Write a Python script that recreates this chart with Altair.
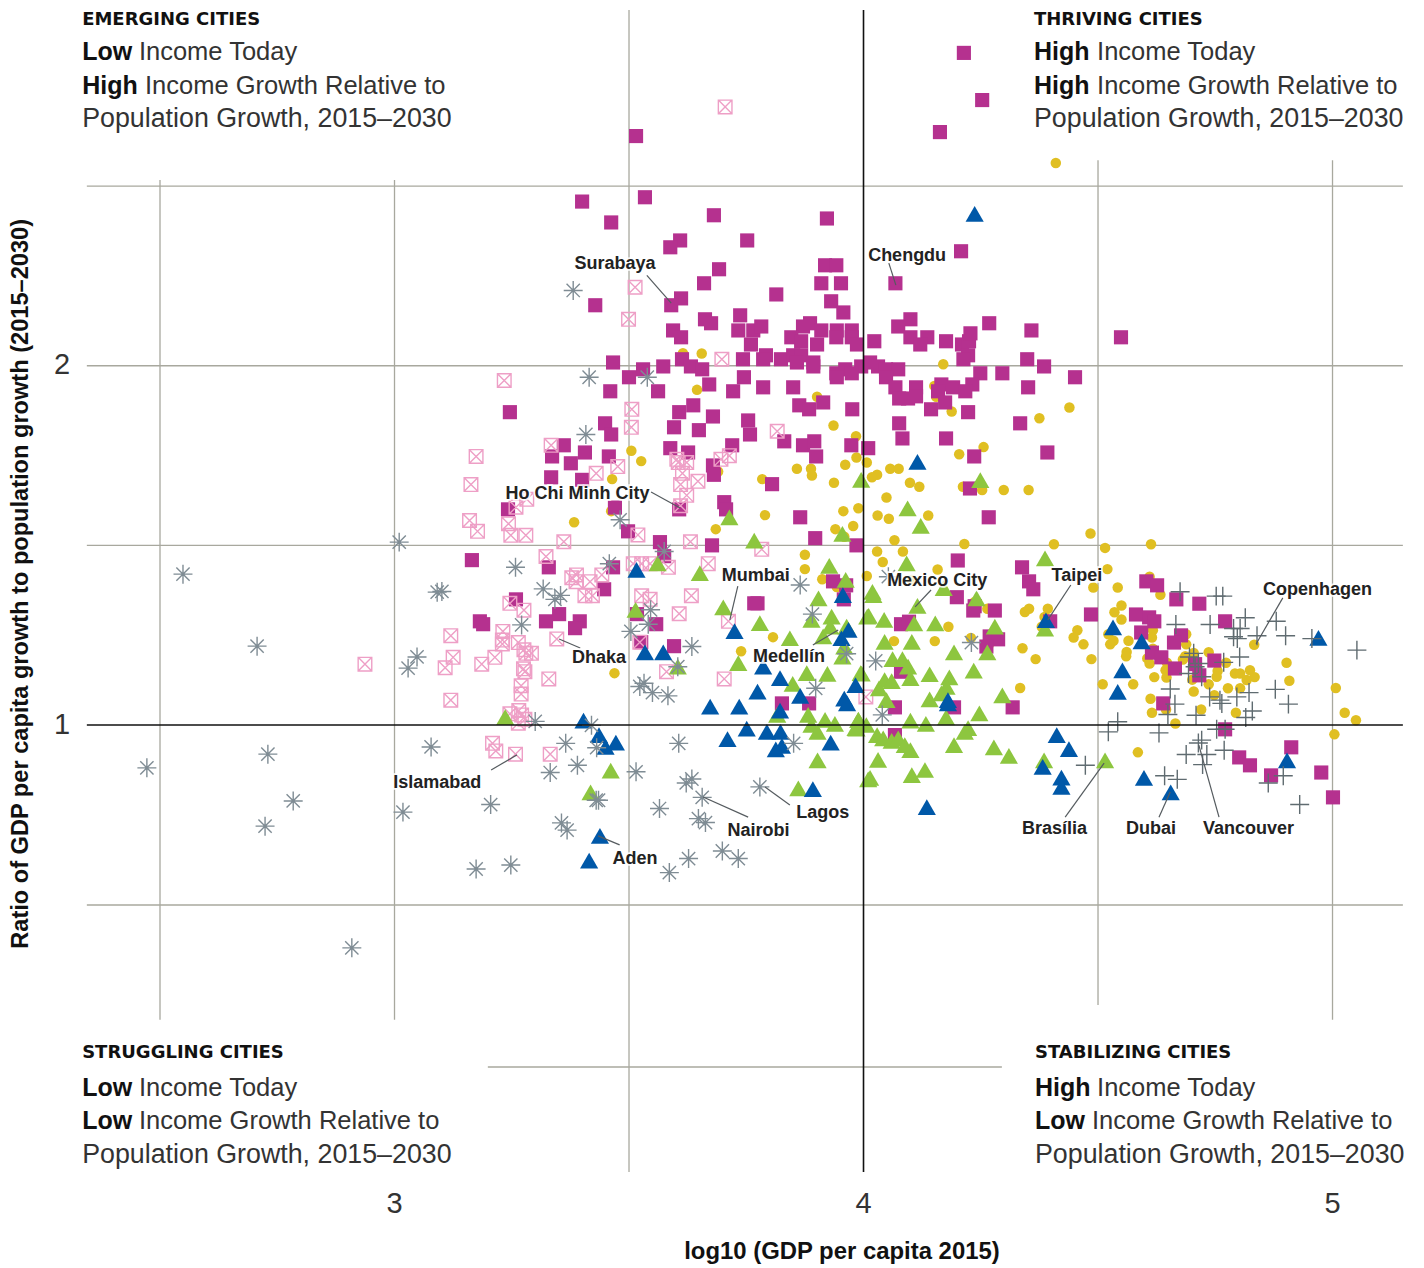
import altair as alt
import pandas as pd

thriving = [(3.400,2.454),(3.534,2.466),(3.462,2.396),(3.681,2.416),(3.922,2.407),(3.609,2.346),(3.588,2.327),(3.752,2.346),(3.692,2.266),(3.660,2.227),
(3.918,2.277),(3.942,2.277),(3.910,2.227),(3.952,2.227),(3.931,2.177),(3.957,2.146),(3.814,2.196),(3.428,2.166),(3.611,2.185),(3.590,2.166),
(3.737,2.138),(3.662,2.127),(3.675,2.116),(3.733,2.096),(3.765,2.096),(3.782,2.107),(3.594,2.096),(3.611,2.077),(3.760,2.057),(3.871,2.107),
(3.886,2.116),(3.910,2.096),(3.943,2.096),(3.975,2.096),(3.942,2.077),(3.975,2.077),(3.846,2.077),(3.867,2.066),(3.901,2.057),(3.986,2.057),
(3.466,2.007),(3.530,1.988),(3.573,1.996),(3.613,2.016),(3.632,1.996),(3.656,1.988),(3.743,2.016),(3.792,2.027),(3.786,2.016),(3.824,2.016),
(3.850,2.027),(3.867,2.027),(3.858,2.007),(3.893,2.007),(3.893,1.996),(3.942,1.977),(3.961,1.988),(3.995,1.996),(3.943,1.966),(3.975,1.977),
(3.500,1.966),(3.671,1.946),(3.745,1.966),(3.460,1.927),(3.562,1.927),(3.722,1.927),(3.786,1.938),(3.850,1.938),(3.863,1.888),(3.884,1.877),
(3.914,1.896),(3.637,1.888),(3.607,1.869),(3.679,1.857),(3.754,1.846),(3.976,1.877),(3.596,1.827),(3.649,1.819),(3.449,1.838),(3.462,1.807),
(3.758,1.807),(3.246,1.869),(3.831,1.788),(3.871,1.777),(3.895,1.788),(3.974,1.777),(3.720,1.777),(3.899,1.746),(3.588,1.769),(3.626,1.757),
(3.361,1.777),(3.406,1.757),(3.336,1.746),(3.457,1.746),(3.376,1.727),(3.679,1.721),
(3.681,1.695),(3.334,1.688),(3.400,1.681),(3.805,1.669),(3.703,1.619),(3.707,1.599),(3.470,1.604),(3.242,1.599),(3.607,1.599),(3.865,1.577),
(3.498,1.538),(3.566,1.508),(3.677,1.499),(3.897,1.519),(3.985,1.499),(3.575,1.469),(3.165,1.458),(3.329,1.438),(3.466,1.438),(3.447,1.377),
(3.935,1.399),(3.963,1.388),(3.958,1.349),(3.259,1.349),(3.182,1.288),(3.189,1.280),(3.323,1.288),(3.351,1.308),(3.395,1.288),(3.385,1.269),
(3.517,1.308),(3.558,1.280),(3.767,1.338),(3.774,1.338),(3.526,1.230),(3.596,1.219),(3.826,1.060),(3.884,1.060),
(4.227,1.657),(4.267,1.577),(4.201,1.457),(4.338,1.438),(4.353,1.399),(4.362,1.377),(4.199,1.355),(4.237,1.330),(4.234,1.318),(4.280,1.318),
(4.080,1.280),(4.097,1.287),(4.269,1.246),(4.287,1.238),(4.262,1.218),(4.080,1.148),(4.067,1.049),(4.193,1.049),(4.318,1.049),(4.067,0.972),
(4.208,2.316),(4.068,2.227),(4.100,2.127),(4.074,2.107),(4.268,2.116),(4.023,2.066),(4.100,2.077),(4.136,2.077),(4.121,2.057),(4.176,2.066),
(4.210,2.057),(4.225,2.066),(4.228,2.088),(4.358,2.096),(4.223,2.027),(4.213,2.016),(4.349,2.016),(4.385,1.996),(4.549,2.077),(4.014,2.007),
(4.031,1.996),(4.048,1.988),(4.074,1.988),(4.048,1.966),(4.249,1.977),(4.296,1.977),(4.451,1.966),(4.166,1.946),(4.068,1.938),(4.112,1.938),
(4.191,1.938),(4.232,1.946),(4.217,1.927),(4.159,1.927),(4.351,1.938),(4.076,1.907),(4.095,1.907),(4.112,1.913),(4.174,1.896),(4.144,1.877),
(4.223,1.869),(4.334,1.838),(4.076,1.838),(4.083,1.796),(4.176,1.796),(4.010,1.769),(4.236,1.746),(4.392,1.757),
(4.214,2.867),(4.253,2.736),(4.163,2.647),(3.515,2.636),
(4.485,1.307),(4.398,1.288),(4.603,1.399),(4.626,1.388),(4.667,1.349),(4.716,1.337),(4.771,1.288),(4.581,1.307),(4.609,1.299),(4.620,1.288),
(4.592,1.257),(4.677,1.249),(4.662,1.229),(4.615,1.201),(4.635,1.188),(4.664,1.157),(4.707,1.169),(4.748,1.179),(4.716,1.138),(4.639,1.060),
(4.771,0.988),(4.801,0.910),(4.824,0.888),(4.869,0.860),(4.912,0.938),(4.976,0.868),(5.001,0.799)]

emerging = [(3.513,2.216),(3.499,2.127),(3.698,2.016),(3.234,1.957),(3.506,1.877),(3.505,1.827),(3.816,1.816),(3.334,1.777),(3.174,1.746),(3.705,2.717),
(3.714,1.748),(3.696,1.738),(3.602,1.738),(3.623,1.729),(3.605,1.729),(3.614,1.699),(3.476,1.718),(3.430,1.699),(3.647,1.677),(3.610,1.668),
(3.623,1.638),(3.163,1.668),(3.610,1.609),(3.282,1.627),(3.259,1.605),(3.160,1.568),(3.177,1.538),(3.243,1.559),(3.248,1.527),(3.280,1.527),
(3.361,1.509),(3.519,1.528),(3.631,1.509),(3.783,1.488),(3.323,1.468),(3.669,1.448),(3.509,1.448),(3.527,1.448),(3.545,1.448),(3.584,1.438),
(3.388,1.417),(3.378,1.409),(3.387,1.398),(3.417,1.398),(3.442,1.417),(3.406,1.359),(3.422,1.359),(3.527,1.359),(3.545,1.349),(3.633,1.359),
(3.246,1.338),(3.276,1.319),(3.607,1.309),(3.712,1.288),(3.120,1.248),(3.231,1.260),(3.230,1.236),(3.230,1.225),(3.264,1.229),(3.346,1.239),
(3.523,1.230),(3.276,1.209),(3.280,1.199),(3.292,1.199),(3.125,1.188),(3.214,1.188),(3.186,1.169),(3.108,1.159),(3.275,1.156),(3.278,1.148),
(3.580,1.148),(3.329,1.128),(3.703,1.128),(3.270,1.109),(3.270,1.086),(3.120,1.069),(3.265,1.040),(3.246,1.031),(3.271,1.028),(3.278,1.016),
(3.264,1.005),(4.005,1.078),(3.209,0.949),(3.216,0.928),(3.258,0.919),(3.332,0.919),(2.937,1.169)]

income_high = [(3.505,1.762),(3.526,1.733),(3.858,1.712),(3.888,1.712),(3.890,1.693),(3.961,1.723),(3.985,1.743),(4.007,1.729),(3.937,1.673),(3.784,1.683),
(3.690,1.704),(3.464,1.683),(3.462,1.594),(3.383,1.563),(3.790,1.583),(3.957,1.594),(3.989,1.602),(3.685,1.544),(3.940,1.544),(3.978,1.553),
(3.959,1.523),(3.875,1.473),(3.875,1.433),(3.912,1.405),(4.007,1.414),(3.943,1.383),(3.807,1.244),(3.739,1.205),(3.469,1.144),
(3.615,2.033),(3.655,2.032),(3.645,1.931),(3.901,1.912),(3.936,1.832),(3.984,1.802),
(4.170,2.002),(4.151,1.942),(4.155,1.912),(4.188,1.871),(4.375,1.852),(4.439,1.882),(4.204,1.752),(4.256,1.772),(4.057,1.712),(4.075,1.712),
(4.029,1.695),(4.018,1.688),(4.410,2.561),
(4.099,1.673),(4.119,1.662),(4.212,1.662),(4.253,1.653),(4.299,1.653),(4.352,1.653),(4.049,1.632),(4.030,1.582),(4.054,1.573),(4.138,1.582),
(4.066,1.513),(4.215,1.503),(4.029,1.482),(4.084,1.482),(4.041,1.453),(4.158,1.432),(4.103,1.403),(4.237,1.342),(4.264,1.323),(4.344,1.314),
(4.353,1.323),(4.181,1.273),(4.065,1.233),(4.152,1.233),(4.229,1.242),(4.267,1.223),(4.339,1.213),(4.367,1.183),(4.334,1.103),
(4.484,1.532),(4.406,1.502),(4.515,1.492),(4.613,1.502),(4.520,1.433),(4.610,1.412),(4.490,1.382),(4.542,1.382),(4.633,1.362),(4.550,1.332),
(4.535,1.313),(4.550,1.293),(4.393,1.323),(4.386,1.300),(4.380,1.273),(4.456,1.263),(4.448,1.243),(4.469,1.224),(4.486,1.183),(4.522,1.252),
(4.533,1.234),(4.526,1.224),(4.565,1.234),(4.561,1.203),(4.560,1.191),(4.617,1.263),(4.615,1.243),(4.688,1.252),(4.688,1.224),(4.617,1.212),
(4.605,1.185),(4.610,1.171),(4.647,1.173),(4.644,1.152),(4.646,1.132),(4.620,1.133),(4.686,1.191),(4.681,1.182),(4.704,1.200),(4.736,1.202),
(4.773,1.173),(4.755,1.150),(4.753,1.134),(4.701,1.126),(4.736,1.113),(4.792,1.143),(4.803,1.143),(4.824,1.152),(4.834,1.133),(4.817,1.125),
(4.803,1.102),(4.777,1.102),(4.902,1.173),(4.908,1.123),(4.833,1.223),(4.510,1.113),(4.575,1.113),(4.704,1.093),(4.748,1.083),(4.612,1.073),
(4.615,1.034),(4.645,1.043),(4.720,1.043),(4.794,1.034),(4.665,1.004),(5.007,1.103),(5.026,1.034),(5.050,1.013),(5.004,0.974),(4.585,0.924)]

green = [(3.995,1.681),(3.714,1.577),(3.955,1.531),(3.767,1.512),(3.561,1.449),(3.651,1.422),(3.927,1.442),(3.962,1.403),(3.701,1.327),(3.904,1.352),
(3.932,1.301),(3.889,1.292),(3.514,1.320),(4.008,1.301),(3.779,1.283),(3.843,1.241),(3.914,1.246),(3.929,1.273),(3.964,1.273),(3.733,1.172),
(3.959,1.218),(3.955,1.190),(3.604,1.162),(3.879,1.144),(3.923,1.142),(3.994,1.144),(3.849,1.114),(3.882,1.028),(3.816,1.028),(3.918,1.014),
(3.939,1.003),(3.989,1.014),(3.889,1.000),(3.236,1.022),(3.902,0.902),(3.861,0.824),(3.461,0.873),(3.418,0.813),(3.902,0.981),(3.985,0.990),(4.010,0.849),
(4.249,1.680),(4.094,1.602),(4.122,1.553),(4.092,1.449),(4.171,1.380),(4.019,1.370),(4.021,1.361),(4.115,1.331),(4.241,1.352),(4.011,1.303),
(4.044,1.292),(4.108,1.282),(4.153,1.282),(4.280,1.273),(4.045,1.231),(4.103,1.231),(4.193,1.202),(4.264,1.202),(4.062,1.183),(4.083,1.183),
(4.095,1.162),(4.100,1.130),(4.141,1.141),(4.183,1.132),(4.235,1.151),(4.045,1.125),(4.060,1.122),(4.033,1.102),(3.996,1.143),(4.177,1.106),
(4.166,1.088),(4.141,1.071),(4.049,1.069),(4.296,1.082),(4.247,1.032),(4.176,1.021),(4.100,1.012),(4.133,1.003),(4.223,0.991),(4.216,0.981),
(3.989,1.014),(4.006,1.000),(3.983,0.991),(4.029,0.972),(4.042,0.963),(4.060,0.956),(4.074,0.963),(4.100,0.930),(4.193,0.944),(4.278,0.938),
(4.031,0.903),(4.014,0.853),(4.103,0.861),(4.131,0.875),(4.088,0.944),(4.310,0.914),(4.387,1.463),(4.387,1.268),(4.385,0.902),(4.515,0.902)]

blue = [(3.516,1.431),(3.725,1.261),(3.956,1.361),(3.968,1.264),(3.953,1.241),(3.534,1.202),(3.573,1.202),(3.786,1.162),(3.822,1.130),(3.774,1.093),
(3.983,1.111),(3.673,1.051),(3.735,1.051),(3.865,1.081),(3.959,1.073),(3.965,1.060),(3.822,1.040),(3.403,1.012),(3.436,0.972),(3.472,0.951),
(3.450,0.939),(3.710,0.961),(3.751,0.990),(3.794,0.981),(3.823,0.981),(3.826,0.942),(3.813,0.932),(3.930,0.951),(3.892,0.822),(3.438,0.692),
(3.415,0.623),(4.237,2.420),(4.115,1.731),(4.180,1.069),(4.180,1.060),(4.135,0.772),(4.389,1.291),(4.532,1.271),(4.593,1.232),(4.552,1.152),
(4.542,1.092),(4.970,1.242),(4.412,0.972),(4.438,0.933),(4.382,0.884),(4.422,0.854),(4.422,0.828),(4.598,0.853),(4.655,0.813),(4.903,0.902)]

struggling = [(3.381,2.207),(3.415,1.966),(3.539,1.966),(3.408,1.807),(3.481,1.570),(3.575,1.482),(3.258,1.438),(3.458,1.448),(3.317,1.378),(3.342,1.349),
(3.354,1.360),(3.271,1.278),(3.546,1.320),(3.865,1.389),(3.891,1.308),(3.504,1.260),(3.541,1.280),(3.634,1.218),(3.964,1.198),(3.604,1.162),
(3.523,1.107),(3.532,1.116),(3.550,1.090),(3.583,1.081),(3.898,1.102),(3.300,1.010),(3.101,1.371),(4.026,1.178),(4.040,1.028),(4.230,1.229),
(4.053,1.412),(3.851,0.949),(3.420,0.999),(3.431,0.937),(3.365,0.949),(3.332,0.868),(3.390,0.888),(3.205,0.779),(3.430,0.791),(3.435,0.791),
(3.356,0.728),(3.368,0.708),(3.174,0.600),(3.248,0.611),(3.515,0.870),(3.606,0.949),(3.634,0.850),(3.622,0.839),(3.656,0.799),(3.565,0.768),
(3.779,0.828),(3.648,0.740),(3.663,0.729),(3.699,0.650),(3.733,0.629),(3.627,0.629),(3.586,0.590),
(2.549,1.419),(2.707,1.219),(2.472,0.881),(2.730,0.919),(2.784,0.789),(2.724,0.719),(2.909,0.381),(3.018,0.758),(3.010,1.508),(3.091,1.369),
(3.029,1.158),(3.048,1.189),(3.078,0.939)]

stabilizing = [(4.675,1.370),(4.752,1.358),(4.766,1.358),(4.666,1.279),(4.739,1.279),(4.814,1.298),(4.880,1.288),(4.900,1.248),(4.839,1.248),(4.789,1.268),
(4.803,1.268),(4.797,1.240),(4.789,1.245),(4.956,1.240),(5.052,1.208),(4.802,1.189),(4.704,1.199),(4.695,1.189),(4.714,1.171),(4.707,1.162),
(4.768,1.174),(4.693,1.143),(4.721,1.134),(4.654,1.100),(4.878,1.099),(4.822,1.090),(4.796,1.078),(4.738,1.078),(4.760,1.069),(4.764,1.060),
(4.664,1.058),(4.906,1.058),(4.829,1.039),(4.815,1.021),(4.709,1.027),(4.649,1.029),(4.542,1.009),(4.522,0.981),(4.630,0.978),(4.753,0.988),
(4.771,0.988),(4.721,0.958),(4.714,0.950),(4.769,0.930),(4.688,0.918),(4.732,0.918),(4.723,0.890),(4.473,0.888),(4.642,0.859),(4.669,0.849),
(4.895,0.859),(4.863,0.839),(4.930,0.779)]

city_labels = [("Surabaya",3.470,2.286),("Chengdu",4.093,2.308),("Ho Chi Minh City",3.390,1.647),("Mumbai",3.770,1.419),("Mexico City",4.157,1.403),
("Taipei",4.455,1.419),("Copenhagen",4.968,1.378),("Dhaka",3.436,1.189),("Medellín",3.841,1.192),("Islamabad",3.091,0.844),("Lagos",3.913,0.761),
("Nairobi",3.776,0.711),("Aden",3.513,0.633),("Brasília",4.407,0.714),("Dubai",4.613,0.714),("Vancouver",4.821,0.714)]

leaders = [(3.538,2.249,3.590,2.172),(4.054,2.283,4.069,2.222),(3.547,1.647,3.609,1.603),(3.732,1.386,3.715,1.292),(4.144,1.375,4.110,1.328),
(4.442,1.389,4.393,1.292),(4.894,1.353,4.837,1.225),(3.351,1.239,3.396,1.214),(3.946,1.264,3.892,1.222),(3.206,0.875,3.261,0.917),
(3.790,0.828,3.843,0.778),(3.658,0.800,3.754,0.744),(3.434,0.692,3.480,0.667),(4.430,0.744,4.513,0.894),(4.630,0.744,4.654,0.814),(4.758,0.744,4.715,0.944)]

grid_v = [(2.5,0.181,2.514),(3,0.181,2.514),(3.5,-0.242,2.986),(4.5,0.222,2.569),(5,0.181,2.569)]
grid_h = [(2.344,5.150,2.497),(2.344,5.150,1.998),(2.344,5.150,1.499),(2.344,5.150,0.5),(3.199,4.295,0.05)]
axis_v = [(4,-0.242,2.986)]
axis_h = [(2.344,5.150,1)]

x_ticks = [(3,-0.331),(4,-0.331),(5,-0.331)]
y_ticks = [(2.291,1),(2.291,2)]

headings = [("EMERGING CITIES",2.334,2.958),("THRIVING CITIES",4.3635,2.958),("STRUGGLING CITIES",2.334,0.089),("STABILIZING CITIES",4.3656,0.089)]
bold_words = [("Low",2.334,2.869),("High",2.334,2.775),("High",4.3635,2.869),("High",4.3635,2.775),
              ("Low",2.334,-0.009),("Low",2.334,-0.100),("High",4.3656,-0.009),("Low",4.3656,-0.100)]
income_words = [("Income Today",2.455,2.869),("Income Growth Relative to",2.468,2.775),
                ("Income Today",4.498,2.869),("Income Growth Relative to",4.498,2.775),
                ("Income Today",2.455,-0.009),("Income Growth Relative to",2.455,-0.100),
                ("Income Today",4.498,-0.009),("Income Growth Relative to",4.487,-0.100)]
population_lines = [("Population Growth, 2015–2030",2.334,2.683),("Population Growth, 2015–2030",4.3635,2.683),
                    ("Population Growth, 2015–2030",2.334,-0.195),("Population Growth, 2015–2030",4.3656,-0.195)]

XS = alt.Scale(domain=[2.1759, 5.1780], nice=False, zero=False)
YS = alt.Scale(domain=[-0.5028, 2.9917], nice=False, zero=False)
FONT = "Liberation Sans"

def X(f="x"): return alt.X(f"{f}:Q", scale=XS, axis=None)
def Y(f="y"): return alt.Y(f"{f}:Q", scale=YS, axis=None)

def pts(rows):
    return pd.DataFrame(rows, columns=["x", "y"])

def points(rows, shape, size, **kw):
    return alt.Chart(pts(rows)).mark_point(shape=shape, size=size, clip=False, **kw).encode(x=X(), y=Y())

def texts(rows, font=FONT, **kw):
    d = pd.DataFrame(rows, columns=["t", "x", "y"])
    return alt.Chart(d).mark_text(font=font, **kw).encode(x=X(), y=Y(), text="t:N")

def vrules(rows, color, w):
    d = pd.DataFrame(rows, columns=["x", "y", "y2"])
    return alt.Chart(d).mark_rule(color=color, strokeWidth=w).encode(x=X(), y=Y(), y2="y2:Q")

def hrules(rows, color, w):
    d = pd.DataFrame(rows, columns=["x", "x2", "y"])
    return alt.Chart(d).mark_rule(color=color, strokeWidth=w).encode(x=X(), x2="x2:Q", y=Y())

STAR = "M-1,0L1,0M0,-1L0,1M-0.7,-0.7L0.7,0.7M-0.7,0.7L0.7,-0.7"
BOX = "M-1,-1L1,-1L1,1L-1,1ZM-1,-1L1,1M-1,1L1,-1"
PLUS = "M-1,0L1,0M0,-1L0,1"

leader_df = pd.DataFrame(leaders, columns=["x", "y", "x2", "y2"])

layers = [
    vrules(grid_v, "#a8a89e", 1.3),
    hrules(grid_h, "#a8a89e", 1.3),
    points(income_high, "circle", 110, filled=True, color="#e0bf22", opacity=1),
    points(thriving, "square", 200, filled=True, color="#b5318f", opacity=1),
    points(emerging, BOX, 185, filled=False, color="#ee9fc6", strokeWidth=1.4, opacity=1),
    points(green, "triangle-up", 330, filled=True, color="#8dc63f", opacity=1),
    points(blue, "triangle-up", 330, filled=True, color="#0058a8", opacity=1),
    points(struggling, STAR, 360, filled=False, color="#7f8c94", strokeWidth=1.4, opacity=1),
    points(stabilizing, PLUS, 360, filled=False, color="#5f6b70", strokeWidth=1.4, opacity=1),
    vrules(axis_v, "#111111", 1.6),
    hrules(axis_h, "#111111", 1.6),
    alt.Chart(leader_df).mark_rule(color="#555b5f", strokeWidth=1.2).encode(x=X(), y=Y(), x2="x2:Q", y2="y2:Q"),
    texts(city_labels, fontSize=18, fontWeight="bold", color="white", stroke="white", strokeWidth=3.5, opacity=0.85, align="center", baseline="middle", dy=1.5),
    texts(city_labels, fontSize=18, fontWeight="bold", color="#222222", align="center", baseline="middle", dy=1.5),
    texts(headings, font="DejaVu Sans", fontSize=18, fontWeight="bold", color="#111111", align="left", baseline="middle"),
    texts(bold_words, fontSize=25, fontWeight="bold", color="#111111", align="left", baseline="middle"),
    texts(income_words, fontSize=25.5, color="#333333", align="left", baseline="middle"),
    texts(population_lines, fontSize=26.8, color="#333333", align="left", baseline="middle"),
    texts([(str(v), v, y) for v, y in x_ticks], fontSize=29, color="#333333", align="center", baseline="middle"),
    texts([(str(v), x, v) for x, v in y_ticks], fontSize=29, color="#333333", align="center", baseline="middle"),
    texts([("log10 (GDP per capita 2015)", 3.954, -0.464)], fontSize=23.9, fontWeight="bold", color="#111111", align="center", baseline="middle"),
    texts([("Ratio of GDP per capita growth to population growth (2015–2030)", 2.2026, 1.392)], fontSize=23.6, fontWeight="bold", color="#111111", align="center", baseline="middle", angle=270),
]

chart = alt.layer(*layers).properties(width=1408, height=1258, padding=0, autosize=alt.AutoSizeParams(type="none")).configure_view(stroke=None)
chart.save("out.html", embed_options={"renderer": "svg", "actions": False})
